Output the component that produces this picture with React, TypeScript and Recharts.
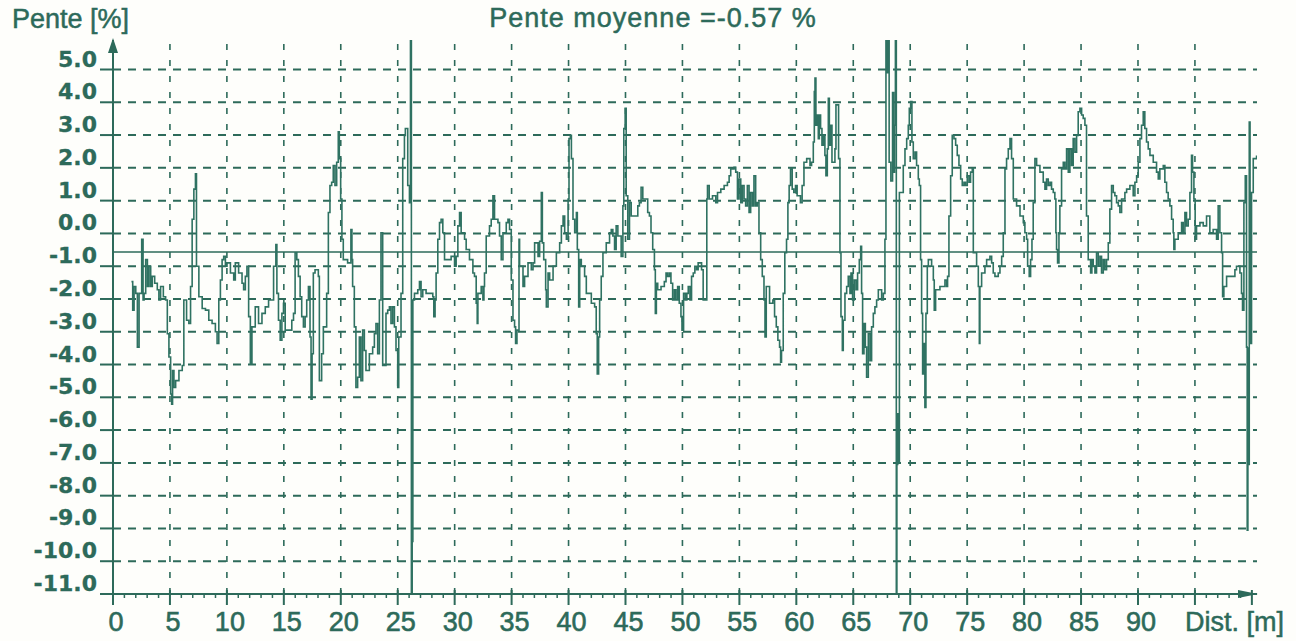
import React from 'react';
import { LineChart, Line, XAxis, YAxis, ReferenceLine, ReferenceDot } from 'recharts';

const distances = [
  1.62,1.73,1.85,2.0,2.14,2.29,2.52,2.64,2.73,2.87,
  3.02,3.16,3.31,3.45,3.66,3.89,4.03,4.18,4.42,4.62,
  4.77,4.91,5.06,5.15,5.23,5.35,5.5,5.79,6.08,6.22,
  6.46,6.66,6.81,6.95,7.1,7.24,7.33,7.54,7.83,8.12,
  8.41,8.7,8.99,9.14,9.29,9.43,9.58,9.72,9.87,10.01,
  10.31,10.6,10.74,11.03,11.33,11.47,11.62,11.76,11.91,12.06,
  12.2,12.49,12.78,13.08,13.37,13.66,13.95,14.1,14.3,14.39,
  14.53,14.68,14.83,14.97,15.12,15.55,15.7,15.85,15.99,16.14,
  16.28,16.43,16.57,16.72,16.87,17.01,17.16,17.3,17.39,17.48,
  17.59,17.74,18.03,18.12,18.32,18.47,18.76,18.91,19.05,19.2,
  19.34,19.49,19.64,19.78,19.87,19.99,20.1,20.22,20.31,20.6,
  20.89,20.98,21.04,21.19,21.33,21.48,21.63,21.77,21.92,22.07,
  22.21,22.51,22.8,22.95,23.09,23.24,23.39,23.53,23.68,23.97,
  24.12,24.27,24.41,24.56,24.71,24.85,25.0,25.09,25.29,25.44,
  25.59,25.67,25.88,26.03,26.12,26.2,26.27,26.33,26.47,26.61,
  26.76,26.91,27.05,27.2,27.49,27.79,28.08,28.17,28.28,28.37,
  28.52,28.67,28.81,28.96,29.11,29.4,29.69,29.99,30.13,30.28,
  30.43,30.57,30.87,31.01,31.3,31.6,31.74,31.89,31.98,32.04,
  32.33,32.48,32.57,32.62,32.77,33.06,33.21,33.36,33.5,33.8,
  33.94,34.09,34.24,34.53,34.68,34.82,34.97,35.12,35.26,35.35,
  35.47,35.65,35.7,36.0,36.14,36.44,36.73,36.88,37.02,37.32,
  37.46,37.61,37.7,37.82,37.99,38.05,38.2,38.34,38.64,38.93,
  39.22,39.37,39.52,39.66,39.81,39.96,40.04,40.16,40.25,40.39,
  40.54,40.69,40.77,40.89,40.98,41.12,41.41,41.56,42.0,42.29,
  42.43,42.52,42.64,42.73,42.87,43.02,43.31,43.6,43.75,43.89,
  44.04,44.18,44.33,44.62,44.77,44.85,44.97,45.06,45.2,45.35,
  45.5,45.79,46.08,46.22,46.37,46.52,46.81,46.95,47.1,47.24,
  47.39,47.54,47.62,47.71,47.83,48.12,48.41,48.56,48.7,48.85,
  48.99,49.14,49.29,49.43,49.58,49.72,49.87,49.96,50.1,50.25,
  50.39,50.51,50.66,50.8,50.95,51.09,51.24,51.38,51.68,51.82,
  52.08,52.14,52.2,52.35,52.64,52.93,53.08,53.37,53.66,53.95,
  54.1,54.24,54.53,54.68,54.83,54.97,55.12,55.26,55.41,55.55,
  55.7,55.85,55.99,56.14,56.28,56.43,56.57,56.72,56.87,57.01,
  57.16,57.25,57.36,57.65,57.94,58.09,58.24,58.38,58.53,58.62,
  58.7,58.85,58.99,59.14,59.26,59.37,59.49,59.64,59.78,59.93,
  60.07,60.36,60.51,60.67,60.91,61.2,61.34,61.49,61.58,61.64,
  61.72,61.84,61.93,62.02,62.13,62.25,62.37,62.51,62.6,62.72,
  62.81,62.9,63.01,63.13,63.39,63.48,63.6,63.71,63.83,63.92,
  64.04,64.12,64.27,64.42,64.56,64.71,64.8,64.94,65.09,65.24,
  65.38,65.53,65.65,65.73,65.82,65.94,66.06,66.17,66.32,66.47,
  66.61,66.76,66.9,67.05,67.2,67.49,67.64,67.78,67.87,67.95,
  68.05,68.15,68.3,68.45,68.55,68.62,68.7,68.78,68.83,68.9,
  68.97,69.05,69.25,69.39,69.54,69.69,69.83,69.92,70.04,70.15,
  70.27,70.42,70.56,70.71,70.8,70.91,71.0,71.09,71.21,71.29,
  71.38,71.5,71.59,71.88,72.03,72.11,72.23,72.47,72.61,72.9,
  73.05,73.2,73.28,73.4,73.55,73.69,73.84,73.99,74.13,74.28,
  74.43,74.57,74.72,74.86,75.01,75.16,75.3,75.45,75.54,75.83,
  75.98,76.07,76.12,76.27,76.56,76.71,77.0,77.15,77.29,77.44,
  77.73,77.88,78.03,78.17,78.32,78.46,78.61,78.76,78.9,79.05,
  79.34,79.64,79.93,80.07,80.22,80.31,80.45,80.57,80.69,80.8,
  80.95,81.1,81.39,81.68,81.83,81.97,82.12,82.27,82.41,82.56,
  82.7,82.79,82.85,82.94,83.06,83.14,83.29,83.44,83.58,83.73,
  83.88,84.02,84.17,84.31,84.46,84.61,84.75,84.9,85.05,85.19,
  85.34,85.48,85.63,85.84,85.95,86.07,86.22,86.36,86.51,86.66,
  86.8,86.95,87.09,87.24,87.39,87.53,87.68,87.83,87.97,88.12,
  88.27,88.41,88.56,88.85,89.0,89.29,89.58,89.73,89.88,90.02,
  90.17,90.31,90.46,90.6,90.75,90.9,91.05,91.34,91.63,91.78,
  91.92,92.22,92.36,92.51,92.65,92.8,92.95,93.09,93.15,93.24,
  93.53,93.83,93.97,94.12,94.26,94.41,94.56,94.7,94.79,94.91,
  95.02,95.14,95.44,95.73,96.02,96.31,96.6,96.9,97.04,97.19,
  97.34,97.43,97.54,97.78,98.07,98.36,98.51,98.65,98.95,99.09,
  99.18,99.3,99.42,99.53,99.59,99.65,99.7,99.77,99.84,99.91,
  99.97,100.12,100.41,
];

const slopes = [
  -1.47,-2.34,-1.62,-1.83,-3.47,-1.83,-0.18,-2.03,-1.83,-0.8,
  -1.62,-1.0,-1.62,-1.31,-1.52,-1.72,-2.03,-1.62,-1.93,-2.03,
  -3.06,-3.77,-4.9,-5.21,-4.18,-4.7,-4.49,-4.18,-4.03,-2.03,
  -2.65,-2.75,-1.62,0.43,1.35,1.82,-1.0,-1.93,-2.29,-2.34,
  -2.65,-2.75,-3.0,-3.36,-2.03,-1.42,-0.8,-0.7,-1.0,-0.9,
  -1.21,-1.42,-0.9,-1.21,-1.52,-1.72,-1.31,-1.0,-2.54,-3.98,
  -2.85,-2.24,-2.75,-2.44,-2.24,-2.03,-2.03,-1.0,-0.34,-1.83,
  -2.65,-3.26,-2.44,-2.13,-2.95,-2.95,-2.65,-2.44,-0.59,-0.8,
  -1.31,-1.93,-2.54,-2.85,-2.54,-2.03,-1.62,-3.16,-5.06,-3.67,
  -1.21,-1.11,-1.31,-4.49,-3.67,-2.85,-1.83,0.64,1.46,1.56,
  2.07,1.46,2.17,3.1,2.28,1.05,-0.18,-0.8,-0.8,-0.9,
  0.12,-0.8,-1.62,-2.85,-4.7,-4.39,-3.16,-4.49,-2.95,-3.57,
  -4.18,-3.67,-3.47,-3.06,-2.75,-3.67,-2.03,0.02,-4.03,-2.44,
  -2.34,-2.24,-2.75,-2.24,-2.85,-3.57,-4.7,-3.16,-1.83,2.28,
  2.99,3.2,1.46,0.94,6.5,-12,-9.4,-2.03,-1.83,-1.83,
  -1.72,-1.47,-1.93,-1.72,-1.83,-1.83,-1.93,-2.54,-2.03,-1.21,
  -0.18,0.33,0.43,0.02,-0.8,-0.8,-0.7,-1.0,-0.7,0.23,
  0.64,0.02,-0.18,-0.49,-0.8,-1.21,-1.31,-2.13,-2.75,-1.83,
  -1.62,-2.03,-1.62,-1.21,-0.08,0.23,0.43,1.15,0.43,0.33,
  -0.08,-0.8,0.02,0.33,0.43,0.12,-1.42,-2.65,-2.85,-3.36,
  -2.95,-0.18,-1.0,-1.62,-1.31,-0.9,-1.11,-0.9,-0.29,-0.7,
  -0.24,1.25,-0.29,-0.8,-1.72,-2.24,-1.21,-1.42,-1.0,-0.59,
  -0.29,0.23,0.53,0.02,-0.18,1.05,2.89,2.99,2.28,0.43,
  0.02,0.64,-0.49,-2.24,-0.8,-1.0,-1.31,-1.83,-2.13,-2.24,
  -3.06,-4.29,-3.16,-2.03,-1.31,-0.59,-0.29,0.02,0.12,-0.08,
  -0.49,0.23,-0.08,-0.7,0.84,3.2,3.82,1.15,-0.18,0.94,
  0.53,0.53,0.84,0.94,1.41,1.05,1.05,0.64,0.53,0.02,
  -0.49,-1.11,-2.44,-1.52,-1.72,-1.62,-1.47,-1.21,-1.31,-1.21,
  -1.52,-2.03,-1.72,-2.03,-1.62,-2.13,-2.54,-2.95,-1.83,-2.03,
  -1.83,-1.62,-2.03,-1.31,-1.21,-1.0,-1.11,-0.9,-1.11,-2.03,
  -2.03,1.05,1.46,1.05,1.15,0.94,1.25,1.35,1.46,1.56,
  1.76,1.97,2.02,1.87,1.05,1.66,0.94,1.46,1.05,0.84,
  1.46,0.64,1.25,0.84,1.76,0.84,0.94,0.02,-0.8,-1.31,
  -2.03,-3.16,-1.62,-2.13,-2.03,-2.54,-2.85,-3.26,-3.47,-3.93,
  -3.57,-1.83,-0.59,-0.18,0.94,1.46,1.97,1.35,1.25,1.46,
  1.15,0.94,1.46,2.17,2.28,2.07,2.17,2.79,4.33,4.74,
  3.3,3.61,2.89,3.61,3.2,2.69,2.99,2.38,1.76,2.58,
  4.12,2.69,3.3,2.17,2.58,3.92,3.92,2.28,-0.59,-2.54,
  -3.57,-2.65,-1.83,-1.62,-1.31,-1.83,-1.21,-2.03,-1.42,-1.72,
  -1.21,-0.8,-0.39,-1.83,-3.67,-2.75,-3.47,-4.39,-3.06,-3.88,
  -2.85,-2.44,-2.24,-2.03,-1.72,-2.03,-1.83,-0.18,6.3,4.9,
  6.3,2.17,1.6,4.3,1.87,3.3,6.3,-12,-7.05,-5.5,
  -7.0,1.25,1.25,2.07,2.58,2.89,3.3,3.82,4.02,2.79,
  2.28,2.48,2.07,1.66,1.46,-0.8,-2.44,-4.29,-3.36,-5.31,
  -2.44,-1.0,-0.8,-1.0,-1.42,-2.34,-1.72,-1.72,-1.62,-1.62,
  -1.42,-1.62,-1.31,0.53,1.76,2.99,2.89,2.69,2.38,2.07,
  1.66,1.46,1.56,1.46,1.76,1.56,1.87,1.97,-0.59,-1.0,
  -1.62,-3.36,-1.62,-1.21,-1.0,-0.8,-0.7,-0.9,-1.21,-1.31,
  -1.21,-1.0,-0.7,0.02,1.97,2.28,2.58,2.89,2.28,1.05,
  0.84,0.53,0.33,0.02,-0.18,-1.0,-1.31,-0.8,-0.18,0.94,
  2.28,2.07,1.87,1.56,1.35,1.66,1.46,1.56,1.35,1.25,
  1.05,0.02,-0.49,-0.9,0.02,0.84,1.97,2.17,1.97,2.58,
  1.87,2.58,2.07,2.89,2.48,2.99,3.71,3.82,3.61,3.51,
  3.3,0.53,-0.8,-1.21,-0.8,-1.0,-1.21,-0.59,-1.0,-0.7,
  -1.21,-0.8,-1.11,-0.8,-0.29,0.74,1.46,1.25,1.15,0.94,
  0.84,0.64,1.05,1.25,1.35,1.46,1.15,1.56,1.76,2.17,
  2.89,3.3,3.71,3.2,2.79,2.58,2.38,2.17,1.87,1.66,
  1.97,2.07,1.56,1.25,1.05,0.84,0.43,0.02,-0.49,-0.18,
  0.02,0.33,0.02,0.64,0.23,0.43,1.25,2.38,1.87,1.05,
  -0.18,0.23,0.33,0.23,0.53,0.02,0.12,-0.18,0.84,0.02,
  -0.59,-1.93,-1.62,-1.31,-1.31,-1.31,-1.11,-1.0,-1.21,-1.83,
  -2.34,0.94,1.76,-3.47,-9.05,-3.5,-7.05,3.4,-1.0,-3.36,
  1.25,2.28,2.38,
];

const yTicks = [-11, -10, -9, -8, -7, -6, -5, -4, -3, -2, -1, 0, 1, 2, 3, 4, 5];
const yGrid = [-10, -9, -8, -7, -6, -5, -4, -3, -2, -1, 0, 1, 2, 3, 4, 5];
const xMinorTicks = Array.from({ length: 101 }, (_, i) => i);
const xGrid = [5, 10, 15, 20, 25, 30, 35, 40, 45, 50, 55, 60, 65, 70, 75, 80, 85, 90, 95];
const xLabelMax = 90;
const meanSlope = -0.57;
const xDomain: [number, number] = [0, 100.45];
const yDomain: [number, number] = [-11, 5.9];

const titleText = 'Pente moyenne =-0.57 %';
const yAxisTitle = 'Pente [%]';
const xAxisTitle = 'Dist. [m]';

const INK = '#2d6a5a';
const LINE = '#2f7262';

const n = Math.min(distances.length, slopes.length);
const data = distances.slice(0, n).map((d, i) => ({ dist: d, pente: slopes[i] }));

const XTick = (props: any) => {
  const { x, y, payload } = props;
  const v = payload.value as number;
  const major = v % 5 === 0;
  return (
    <g>
      {major ? (
        <line x1={x} x2={x} y1={y - 4} y2={y + 11} stroke={INK} strokeWidth={2} />
      ) : (
        <line x1={x} x2={x} y1={y} y2={y + 4} stroke={INK} strokeWidth={1.5} />
      )}
      {major && v <= xLabelMax ? (
        <text
          x={x + 3}
          y={y + 37}
          textAnchor="middle"
          fill={INK}
          stroke={INK}
          strokeWidth={0.6}
          style={{ fontFamily: 'Liberation Sans, Arial, sans-serif', fontSize: 27 }}
        >
          {String(v)}
        </text>
      ) : null}
    </g>
  );
};

const YTick = (props: any) => {
  const { x, y, payload } = props;
  const v = payload.value as number;
  return (
    <text
      x={x - 3}
      y={y - 3}
      textAnchor="end"
      fill={INK}
      stroke={INK}
      strokeWidth={0.3}
      style={{ fontFamily: 'DejaVu Sans, sans-serif', fontSize: 22, fontWeight: 700 }}
    >
      {v.toFixed(1)}
    </text>
  );
};

const UpArrow = (props: any) => {
  const { cx, cy } = props;
  return <polygon points={`${cx},${cy - 2} ${cx - 5},${cy + 13} ${cx + 5},${cy + 13}`} fill={INK} />;
};

const RightArrow = (props: any) => {
  const { cx, cy } = props;
  return <polygon points={`${cx + 1},${cy} ${cx - 19},${cy - 4} ${cx - 19},${cy + 4}`} fill={INK} />;
};

const titleStyle = { fontFamily: 'Liberation Sans, Arial, sans-serif', fontSize: 27 };

export default function App() {
  return (
    <div style={{ position: 'absolute', left: 0, top: 0, width: 1296, height: 641, background: '#fefefb' }}>
      <LineChart width={1296} height={641} data={data} margin={{ top: 40, right: 39, left: 0, bottom: 0 }}>
        <XAxis
          dataKey="dist"
          type="number"
          domain={xDomain}
          allowDataOverflow
          ticks={xMinorTicks}
          interval={0}
          tick={XTick}
          tickLine={false}
          tickSize={0}
          tickMargin={0}
          height={47}
          axisLine={{ stroke: INK, strokeWidth: 2 }}
        />
        <YAxis
          type="number"
          domain={yDomain}
          allowDataOverflow
          ticks={yTicks}
          interval={0}
          width={113}
          tick={YTick}
          tickSize={13}
          tickMargin={0}
          tickLine={{ stroke: INK, strokeWidth: 2 }}
          axisLine={{ stroke: INK, strokeWidth: 2 }}
        />
        {yGrid.map((v) => (
          <ReferenceLine key={'h' + v} y={v} stroke={INK} strokeWidth={2} strokeDasharray="8 7" />
        ))}
        {xGrid.map((v) => (
          <ReferenceLine key={'v' + v} x={v} stroke={INK} strokeWidth={1.6} strokeDasharray="6 10" />
        ))}
        <ReferenceLine y={meanSlope} stroke={INK} strokeWidth={1.5} />
        <Line
          type="stepAfter"
          dataKey="pente"
          stroke={LINE}
          strokeWidth={1.6}
          dot={false}
          isAnimationActive={false}
        />
        <ReferenceDot x={0} y={yDomain[1]} r={5} shape={UpArrow} ifOverflow="visible" />
        <ReferenceDot x={xDomain[1]} y={yDomain[0]} r={5} shape={RightArrow} ifOverflow="visible" />
      </LineChart>
      <svg width={1296} height={641} style={{ position: 'absolute', left: 0, top: 0, pointerEvents: 'none' }}>
        <text x={12} y={28} fill={INK} stroke={INK} strokeWidth={0.5} style={titleStyle}>
          {yAxisTitle}
        </text>
        <text
          x={653}
          y={27}
          textAnchor="middle"
          fill={INK}
          stroke={INK}
          strokeWidth={0.5}
          letterSpacing={1}
          style={titleStyle}
        >
          {titleText}
        </text>
        <text x={1185} y={631} fill={INK} stroke={INK} strokeWidth={0.5} style={titleStyle}>
          {xAxisTitle}
        </text>
      </svg>
    </div>
  );
}
